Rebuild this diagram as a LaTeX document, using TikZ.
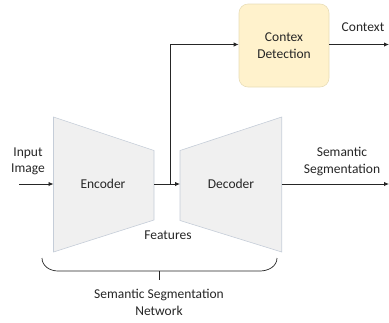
\documentclass[tikz,border=0pt]{standalone}
\usepackage{fontspec}
\setmainfont{Carlito}
\usetikzlibrary{arrows.meta}
\definecolor{linegray}{HTML}{262626}
\definecolor{trapfill}{HTML}{F0F0F0}
\definecolor{trapedge}{HTML}{C5CDD8}
\definecolor{boxfill}{HTML}{FFF2CC}
\definecolor{boxedge}{HTML}{E8DDB8}
\tikzset{
  lbl/.style={font=\fontsize{13.5}{16.5}\selectfont, text=linegray, align=center, inner sep=0pt},
  conn/.style={draw=linegray, line width=0.9pt, -{Latex[length=5pt,width=4.5pt]}},
  trap/.style={fill=trapfill, draw=trapedge, line width=0.6pt},
  ctxbox/.style={lbl, fill=boxfill, draw=boxedge, line width=0.6pt, rounded corners=9pt,
    minimum width=90pt, minimum height=83pt},
  brace/.style={draw=linegray, line width=0.7pt}
}
\begin{document}
\begin{tikzpicture}[x=1pt,y=-1pt]
\useasboundingbox (0,0) rectangle (389,322);
% encoder and decoder trapezoids
\draw[trap] (53.5,117) -- (154,150.5) -- (154,220) -- (53.5,252) -- cycle;
\draw[trap] (180,150.5) -- (281.7,117) -- (281.7,252) -- (180,220.5) -- cycle;
\node[lbl] (enc) at (103,184) {Encoder};
\node[lbl] (dec) at (231,184) {Decoder};
% end points of the trapezoids on the centre line
\coordinate (encin) at (53.5,184);
\coordinate (encout) at (154,184);
\coordinate (decin) at (180,184);
\coordinate (decout) at (281.7,184);
\coordinate (split) at (170,184);
% context detection block
\node[ctxbox] (ctx) at (284,45.5) {Contex\\Detection};
% free ends
\coordinate (src) at (19,184);
\coordinate (segend) at (389,184);
\coordinate (ctxend) at (389,44.5);
% connectors
\draw[conn] (src) -- (encin);
\draw[conn] (encout) -- (decin);
\draw[conn] (split) |- (ctx.west |- 0,44.5);
\draw[conn] (ctx.east |- 0,44.5) -- (ctxend);
\draw[conn] (decout) -- (segend);
% labels
\node[lbl] (inlbl) at (28,161.5) {Input\\Image};
\node[lbl] (feat) at (168,235) {Features};
\node[lbl] (ctxlbl) at (363,27) {Context};
\node[lbl] (seglbl) at (342,161.5) {Semantic\\Segmentation};
% brace under the network
\coordinate (bl) at (42,258);
\coordinate (br) at (277,258);
\coordinate (bm) at (159,271);
\coordinate (btick) at (159,280);
\draw[brace] (bl) to[out=-90,in=180] (58,271) -- (260,271) to[out=0,in=-90] (br);
\draw[brace] (bm) -- (btick);
\node[lbl] (net) at (159,302.5) {Semantic Segmentation\\Network};
\end{tikzpicture}
\end{document}
